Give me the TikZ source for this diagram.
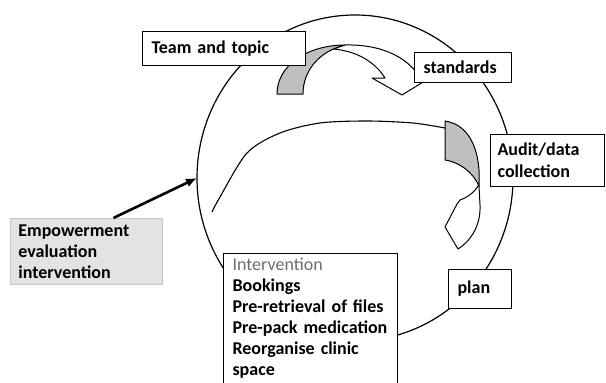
\documentclass[tikz,border=0pt]{standalone}
\usepackage{fontspec}
\setmainfont{Carlito}
\usetikzlibrary{arrows.meta}
\begin{document}
\begin{tikzpicture}[x=1pt,y=-1pt,
  box/.style={draw, fill=white, line width=1.1pt, anchor=north west, align=left,
    font=\bfseries\fontsize{18}{21}\selectfont, inner ysep=0pt, inner xsep=9pt},
  band/.style={draw, line width=1pt, line join=round},
  bandshade/.style={band, fill=gray!50},
  loopline/.style={line width=1.2pt},
  bigarrow/.style={line width=2.6pt, -{Latex[length=11pt,width=9pt]}},
]
\path[use as bounding box, clip] (0,0) rectangle (606,383);
\fill[white] (0,0) rectangle (606,383);

% the cycle
\draw[loopline] (355,178) ellipse [x radius=158, y radius=163];

% curved block arrow: team -> standards
\draw[band, fill=white] (333,49) .. controls (357,51) and (375,62) .. (385,78)
  -- (372,78) -- (402,95) -- (428,79) -- (420,78)
  .. controls (410,60) and (385,44) .. (345,45) -- cycle;
\draw[bandshade] (277,94) .. controls (277,65) and (308,45) .. (345,45)
  .. controls (320,51) and (303,70) .. (303,94) -- cycle;

% curved block arrow: audit -> plan
\draw[band, fill=white] (478,186) .. controls (474,193) and (466,198) .. (460,200)
  -- (457,204) -- (445,227) -- (458,249)
  .. controls (472,240) and (481,224) .. (480,205) -- (479,186) -- cycle;
\draw[bandshade] (445,121) -- (445,160) .. controls (459,162) and (473,172) .. (479,186)
  .. controls (481,155) and (472,125) .. (445,121) -- cycle;

% long curve back round
\draw[line width=1.1pt] plot[smooth] coordinates {(212,212) (220,197) (247,153) (280,133) (320,123) (367,121) (413,123) (445,128)};

% boxes
\node[box, text width=145pt, minimum height=34pt] (team) at (142,31) {Team and topic};
\node[box, text width=79pt, minimum height=30pt] (std) at (414,52) {standards};
\node[box, inner xsep=7pt, text width=100pt, minimum height=52pt,
  font=\bfseries\fontsize{18}{22}\selectfont] (audit) at (490,134) {Audit/data\\collection};
\node[box, text width=45pt, minimum height=39pt] (plan) at (448,269) {plan};
\node[box, text width=156pt, inner ysep=5pt] (interv) at (223,253)
  {{\mdseries\color{gray!85!black}Intervention}\\Bookings\\Pre-retrieval of files\\Pre-pack medication\\Reorganise clinic\\space\strut};
\node[box, draw=gray!45, fill=gray!22, line width=0.8pt, inner xsep=8pt,
  text width=136pt, minimum height=66pt] (emp) at (10,218)
  {Empowerment\\evaluation\\intervention};

% arrow onto the cycle
\coordinate (hit) at (197,178);
\draw[bigarrow] ([xshift=27pt]emp.north) -- (hit);
\end{tikzpicture}
\end{document}
